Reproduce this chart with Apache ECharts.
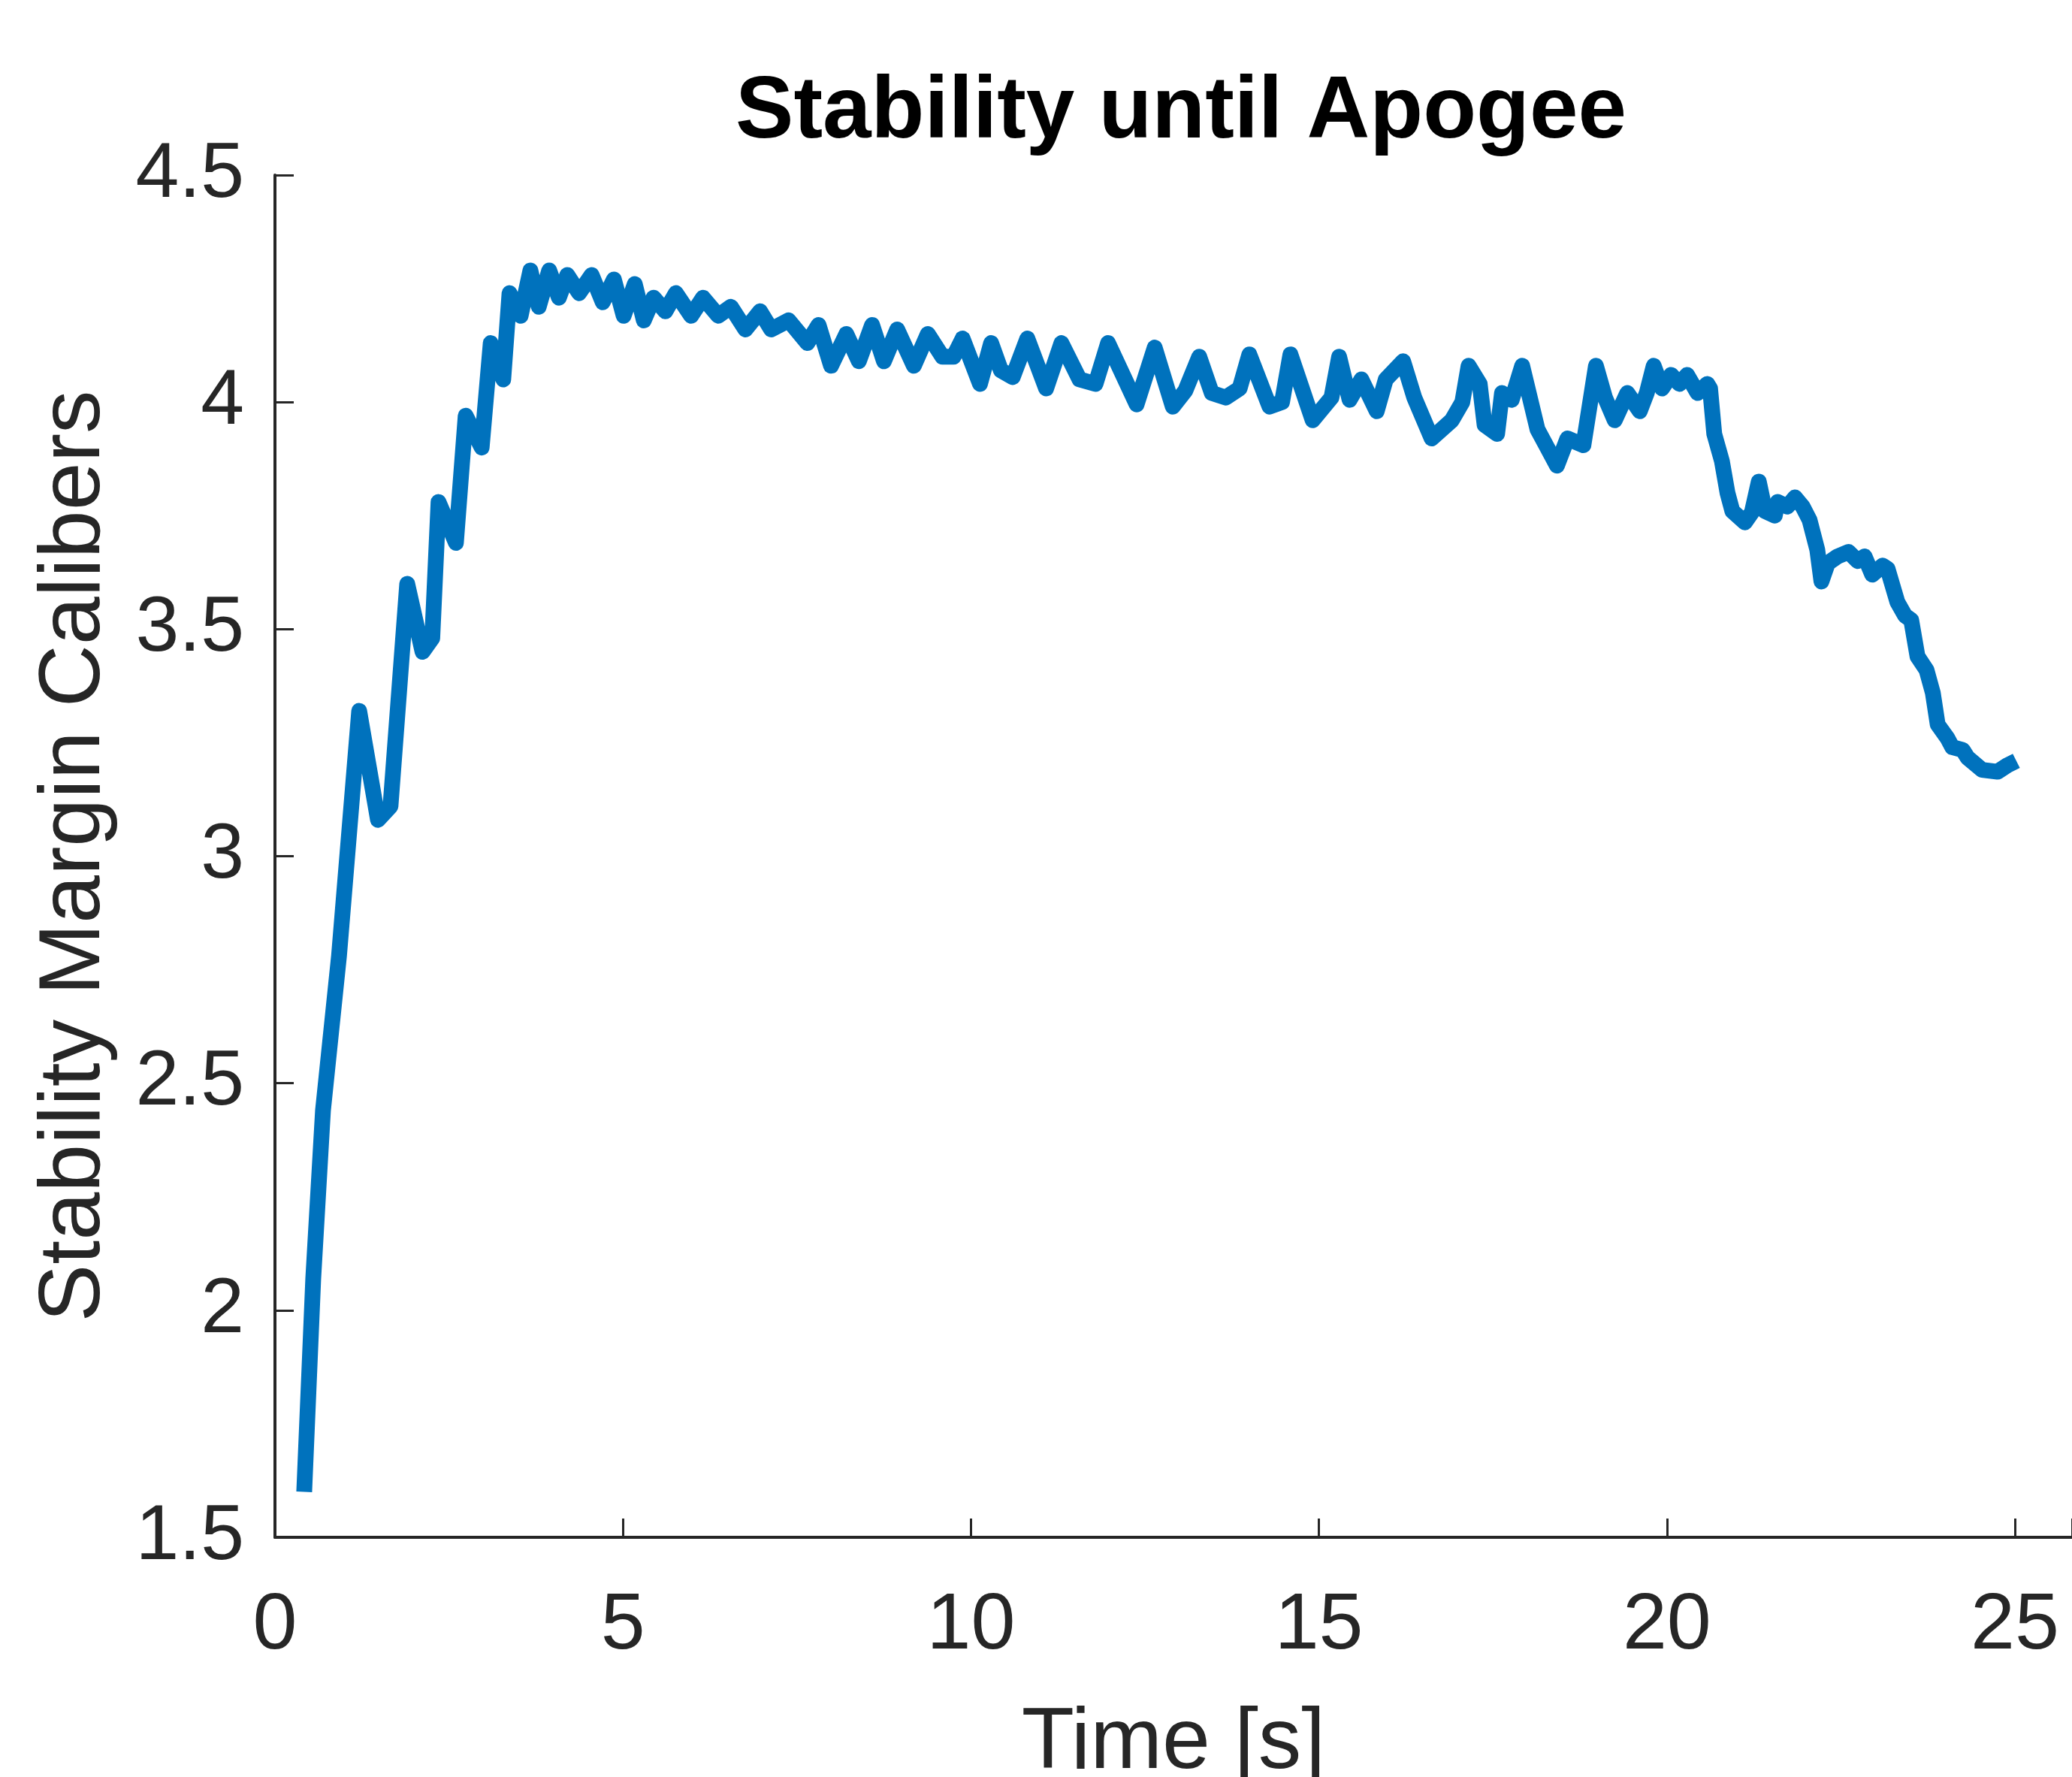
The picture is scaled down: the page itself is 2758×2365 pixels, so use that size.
<!DOCTYPE html>
<html>
<head>
<meta charset="utf-8">
<script src="https://cdn.jsdelivr.net/npm/echarts@6/dist/echarts.min.js"></script>
<style>
html,body{margin:0;padding:0;background:#fff;}
#chart{width:2758px;height:2365px;}
</style>
</head>
<body>
<div id="chart"></div>
<script>
const titleText = "Stability until Apogee";
const xLabel = "Time [s]";
const yLabel = "Stability Margin Calibers";
const xTicks = [0, 5, 10, 15, 20, 25];
const yTicks = [1.5, 2, 2.5, 3, 3.5, 4, 4.5];

const timeS = [
  0.42, 0.55, 0.69, 0.92, 1.21, 1.48, 1.66, 1.90, 2.12, 2.26,
  2.35, 2.60, 2.74, 2.97, 3.10, 3.28, 3.37, 3.53, 3.67, 3.79,
  3.94, 4.08, 4.20, 4.37, 4.55, 4.71, 4.87, 5.01, 5.17, 5.30,
  5.44, 5.61, 5.76, 5.98, 6.15, 6.37, 6.55, 6.76, 6.97, 7.13,
  7.38, 7.65, 7.81, 7.99, 8.21, 8.39, 8.58, 8.75, 8.94, 9.18,
  9.38, 9.59, 9.75, 9.88, 10.13, 10.29, 10.43, 10.60, 10.81, 11.08,
  11.30, 11.56, 11.79, 11.97, 12.38, 12.64, 12.90, 13.08, 13.28, 13.46,
  13.66, 13.86, 14.00, 14.29, 14.47, 14.59, 14.91, 15.18, 15.29, 15.44,
  15.61, 15.83, 15.96, 16.21, 16.37, 16.62, 16.91, 17.06, 17.15, 17.31,
  17.38, 17.56, 17.63, 17.77, 17.92, 18.14, 18.28, 18.42, 18.57, 18.80,
  18.98, 19.11, 19.25, 19.43, 19.61, 19.71, 19.81, 19.93, 20.06, 20.18,
  20.29, 20.44, 20.58, 20.62, 20.68, 20.79, 20.87, 20.94, 21.12, 21.22,
  21.32, 21.41, 21.55, 21.59, 21.73, 21.84, 21.95, 22.05, 22.16, 22.22,
  22.31, 22.45, 22.61, 22.74, 22.84, 22.95, 23.10, 23.17, 23.31, 23.42,
  23.51, 23.60, 23.73, 23.82, 23.89, 24.03, 24.10, 24.25, 24.32, 24.53,
  24.75, 24.89, 25.02
];

const stability = [
  1.60, 2.07, 2.44, 2.78, 3.32, 3.08, 3.11, 3.60, 3.45, 3.48,
  3.78, 3.69, 3.97, 3.90, 4.13, 4.05, 4.24, 4.19, 4.29, 4.21,
  4.29, 4.23, 4.28, 4.24, 4.28, 4.22, 4.27, 4.19, 4.26, 4.18,
  4.23, 4.20, 4.24, 4.19, 4.23, 4.19, 4.21, 4.16, 4.20, 4.16,
  4.18, 4.13, 4.17, 4.08, 4.15, 4.09, 4.17, 4.09, 4.16, 4.08,
  4.15, 4.10, 4.10, 4.14, 4.04, 4.13, 4.07, 4.055, 4.14, 4.03,
  4.13, 4.05, 4.04, 4.13, 3.995, 4.12, 3.99, 4.025, 4.10, 4.02,
  4.01, 4.03, 4.105, 3.99, 4.00, 4.105, 3.96, 4.01, 4.10, 4.005,
  4.05, 3.98, 4.05, 4.09, 4.01, 3.92, 3.96, 4.00, 4.08, 4.04,
  3.95, 3.93, 4.02, 4.005, 4.08, 3.94, 3.90, 3.86, 3.92, 3.905,
  4.08, 4.01, 3.96, 4.02, 3.98, 4.02, 4.08, 4.03, 4.06, 4.04,
  4.06, 4.02, 4.04, 4.03, 3.93, 3.87, 3.80, 3.76, 3.735, 3.757,
  3.825, 3.76, 3.75, 3.78, 3.77, 3.79, 3.77, 3.74, 3.675, 3.605,
  3.645, 3.66, 3.67, 3.65, 3.66, 3.62, 3.64, 3.633, 3.56, 3.53,
  3.52, 3.44, 3.41, 3.36, 3.29, 3.26, 3.24, 3.234, 3.217, 3.19,
  3.186, 3.20, 3.21
];

const seriesData = timeS.map((t, i) => [t, stability[i]]);

const axisColor = '#262626';
const fontFam = '"Liberation Sans", Arial, Helvetica, sans-serif';

const chart = echarts.init(document.getElementById('chart'), null, {renderer: 'canvas'});
chart.setOption({
  backgroundColor: '#ffffff',
  animation: false,
  title: {
    text: titleText,
    left: 1567,
    top: 88,
    textAlign: 'center',
    textStyle: {fontFamily: fontFam, fontSize: 116, fontWeight: 'bold', color: '#000000'}
  },
  grid: {left: 366, top: 233, right: 0, bottom: 319, containLabel: false, outerBoundsMode: 'none'},
  xAxis: {
    type: 'value',
    min: 0,
    max: 25.82,
    interval: 5,
    name: xLabel,
    nameLocation: 'middle',
    nameGap: 218,
    nameTextStyle: {fontFamily: fontFam, fontSize: 115, color: axisColor},
    axisLine: {show: true, lineStyle: {color: axisColor, width: 4}},
    axisTick: {show: true, inside: true, length: 25, lineStyle: {color: axisColor, width: 3}},
    splitLine: {show: false},
    axisLabel: {
      margin: 66,
      fontFamily: fontFam, fontSize: 106, color: axisColor,
      formatter: v => (xTicks.indexOf(Math.round(v * 1000) / 1000) >= 0 ? String(v) : '')
    }
  },
  yAxis: {
    type: 'value',
    min: 1.5,
    max: 4.5,
    interval: 0.5,
    name: yLabel,
    nameLocation: 'middle',
    nameGap: 208,
    nameTextStyle: {fontFamily: fontFam, fontSize: 115, color: axisColor},
    axisLine: {show: true, lineStyle: {color: axisColor, width: 4}},
    axisTick: {show: true, inside: true, length: 25, lineStyle: {color: axisColor, width: 3}},
    splitLine: {show: false},
    axisLabel: {
      margin: 41,
      padding: [32, 0, 0, 0],
      fontFamily: fontFam, fontSize: 104, color: axisColor,
      formatter: v => (yTicks.indexOf(Math.round(v * 1000) / 1000) >= 0 ? String(v) : '')
    }
  },
  series: [{
    type: 'line',
    data: seriesData,
    showSymbol: false,
    symbol: 'none',
    smooth: false,
    lineStyle: {color: '#0072BD', width: 21, join: 'round', cap: 'butt'},
    itemStyle: {color: '#0072BD'}
  }]
});
</script>
</body>
</html>
